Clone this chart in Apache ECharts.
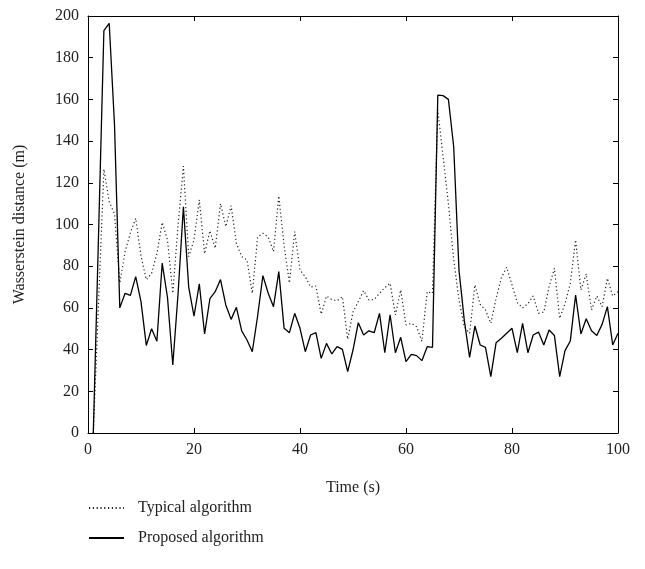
<!DOCTYPE html>
<html>
<head>
<meta charset="utf-8">
<script src="https://cdn.jsdelivr.net/npm/echarts@6/dist/echarts.min.js"></script>
<style>
html,body{margin:0;padding:0;background:#fff;}
#chart{width:645px;height:569px;}
</style>
</head>
<body>
<div id="chart"></div>
<script>
var timeSeconds = [1,2,3,4,5,6,7,8,9,10,11,12,13,14,15,16,17,18,19,20,21,22,23,24,25,26,27,28,29,30,31,32,33,34,35,36,37,38,39,40,41,42,43,44,45,46,47,48,49,50,51,52,53,54,55,56,57,58,59,60,61,62,63,64,65,66,67,68,69,70,71,72,73,74,75,76,77,78,79,80,81,82,83,84,85,86,87,88,89,90,91,92,93,94,95,96,97,98,99,100];

var typicalAlgorithm = [0,63,126.5,111,105,72,87,96,103,85,73.5,76.6,86,101,92.6,67,100,128,84.6,92.6,111.8,86,97,88.6,110,99,109,91,84.6,83,67,94,95.8,94,87,113.7,90,72,96.6,78,75,70,70.5,57,65.7,64,63.5,65.4,45,58,63,68.3,63.8,64,67,69.7,71.8,56.6,68.6,51.8,52.6,51,44,67.8,67,155,132.4,110,83,63.8,51,47.8,71,61.7,59,52.6,64.6,74.5,79.5,71,62.5,60,62,65.7,57.4,58,70.2,79,55,62,71.8,92.6,68.6,76.3,59,65.7,60.6,74.2,65.7,67.8];

var proposedAlgorithm = [0,96,193,196.5,148,60,67,66,75,63,42,50,44,81.5,65,32.6,67,108.5,70,56,71.5,47.5,64.4,67.8,73.6,61.4,54.5,60.3,49,44.6,39,56,75.5,67,60.6,77.4,50.2,48.1,57.4,50.2,39,47,48.1,35.8,43,37.9,41.4,40.1,29.4,39.8,52.9,47,49,48.1,57.4,38.5,56.7,38.5,45.9,34.2,37.7,37.1,34.7,41.4,41.1,162.1,161.8,160,137.3,78,54,36.3,51.3,42.2,41.1,27,43.3,45.4,47.8,50.2,38.5,52.6,38.5,47,48.4,42.2,49.4,46.8,27,39.5,44.1,66.2,47.5,54.8,49,46.8,52.1,60.6,42.2,47.8];

var seriesNames = ['Typical algorithm', 'Proposed algorithm'];
var xTickLabels = ['0','20','40','60','80','100'];
var yTickLabels = ['0','20','40','60','80','100','120','140','160','180','200'];

function pairs(vals){ return timeSeconds.map(function(t,i){ return [t, vals[i]]; }); }

var FONT = 'Liberation Serif';
var chart = echarts.init(document.getElementById('chart'), null, {renderer:'canvas'});
var axisLine = {show:true, onZero:false, lineStyle:{color:'#000', width:1}};
var tick = {show:true, inside:true, length:5, lineStyle:{color:'#000', width:1}};

chart.setOption({
  animation:false,
  backgroundColor:'#fff',
  textStyle:{fontFamily:FONT},
  grid:{left:88, right:27, top:16, bottom:136, containLabel:false},
  legend:{
    orient:'vertical', left:88, top:500, padding:0, itemWidth:35, itemHeight:14, itemGap:14,
    data:seriesNames,
    itemStyle:{color:'rgba(0,0,0,0)', borderWidth:0},
    textStyle:{fontFamily:FONT, fontSize:16, color:'#222', padding:[0,0,0,9]}
  },
  xAxis:[{
    type:'value', min:0, max:100, interval:20, position:'bottom',
    name:'Time (s)', nameLocation:'middle', nameGap:47,
    nameTextStyle:{fontFamily:FONT, fontSize:16, color:'#222'},
    axisLine:axisLine, axisTick:tick, splitLine:{show:false},
    axisLabel:{fontFamily:FONT, fontSize:16, color:'#222', margin:9,
      formatter:function(v){ return xTickLabels[Math.round(v/20)]; }}
  },{
    type:'value', min:0, max:100, interval:20, position:'top',
    axisLine:axisLine, axisTick:tick, splitLine:{show:false}, axisLabel:{show:false}
  }],
  yAxis:[{
    type:'value', min:0, max:200, interval:20, position:'left',
    name:'Wasserstein distance (m)', nameLocation:'middle', nameGap:60, nameRotate:90,
    nameTextStyle:{fontFamily:FONT, fontSize:16, color:'#222'},
    axisLine:axisLine, axisTick:tick, splitLine:{show:false},
    axisLabel:{fontFamily:FONT, fontSize:16, color:'#222', margin:9,
      formatter:function(v){ return yTickLabels[Math.round(v/20)]; }}
  },{
    type:'value', min:0, max:200, interval:20, position:'right',
    axisLine:axisLine, axisTick:tick, splitLine:{show:false}, axisLabel:{show:false}
  }],
  series:[{
    name:seriesNames[0], type:'line', data:pairs(typicalAlgorithm),
    symbol:'none', showSymbol:false,
    lineStyle:{color:'#222', width:1.2, type:[1.2,2.6]},
    itemStyle:{color:'#222'}
  },{
    name:seriesNames[1], type:'line', data:pairs(proposedAlgorithm),
    symbol:'none', showSymbol:false,
    lineStyle:{color:'#000', width:1.3, type:'solid'},
    itemStyle:{color:'#000'}
  }]
});
</script>
</body>
</html>
